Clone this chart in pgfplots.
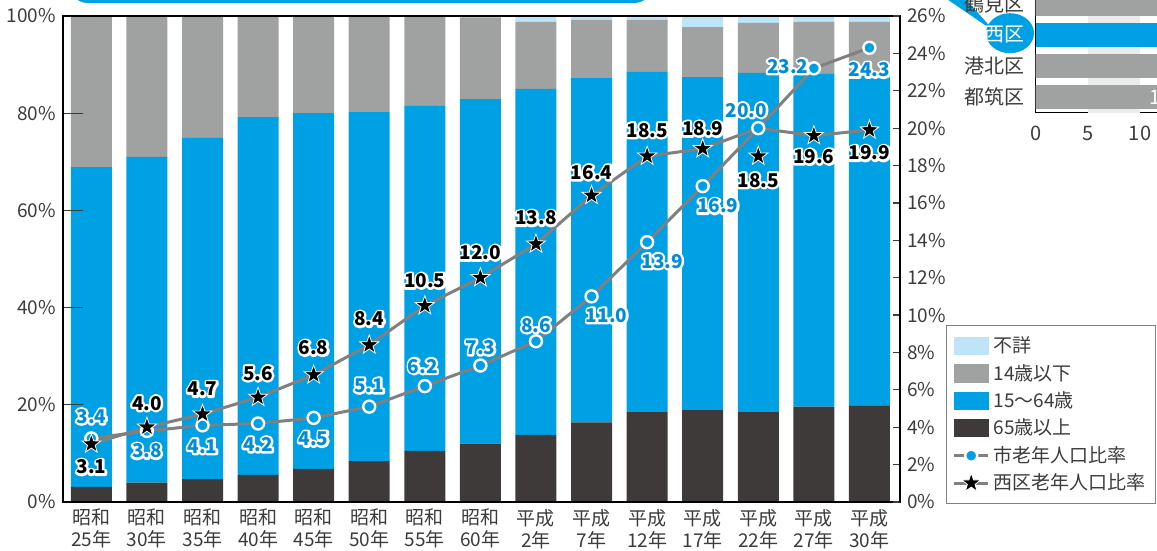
\documentclass[border=0pt]{standalone}
\usepackage{fontspec}
\setmainfont{Noto Sans CJK JP}
\usepackage{pgfplots}
\pgfplotsset{compat=1.18}
\usepackage{pgfplotstable}

\definecolor{cBlue}{RGB}{0,160,228}
\definecolor{cGray}{RGB}{160,162,161}
\definecolor{cDark}{RGB}{62,58,57}
\definecolor{cLight}{RGB}{190,228,248}
\definecolor{cLine}{RGB}{128,128,128}
\definecolor{cLab}{RGB}{0,140,214}
\definecolor{cTick}{RGB}{60,60,60}

% white halo round a label: stroked copy, then the text
\newcommand\outl[2]{\makebox[0pt][l]{\special{pdf:literal direct 1 Tr 2.2 w 1 j 1 1 1 RG}#2\special{pdf:literal direct 0 Tr}}{\color{#1}#2}}

% filled five-pointed star
\pgfdeclareplotmark{fstar}{%
  \pgfpathmoveto{\pgfpointpolar{90}{\pgfplotmarksize}}%
  \pgfpathlineto{\pgfpointpolar{126}{0.4\pgfplotmarksize}}%
  \pgfpathlineto{\pgfpointpolar{162}{\pgfplotmarksize}}%
  \pgfpathlineto{\pgfpointpolar{198}{0.4\pgfplotmarksize}}%
  \pgfpathlineto{\pgfpointpolar{234}{\pgfplotmarksize}}%
  \pgfpathlineto{\pgfpointpolar{270}{0.4\pgfplotmarksize}}%
  \pgfpathlineto{\pgfpointpolar{306}{\pgfplotmarksize}}%
  \pgfpathlineto{\pgfpointpolar{342}{0.4\pgfplotmarksize}}%
  \pgfpathlineto{\pgfpointpolar{18}{\pgfplotmarksize}}%
  \pgfpathlineto{\pgfpointpolar{54}{0.4\pgfplotmarksize}}%
  \pgfpathclose\pgfusepathqfillstroke}

% population shares (%), bottom to top
\pgfplotstableread{
x dark mid young unk
0  3.1  65.8 31.1 0
1  4.0  67.0 29.0 0
2  4.7  70.2 25.1 0
3  5.6  73.6 20.8 0
4  6.8  73.2 20.0 0
5  8.4  71.8 19.8 0
6  10.5 71.0 18.5 0
7  12.0 70.9 16.8 0.3
8  13.8 71.2 13.8 1.2
9  16.4 70.8 12.0 0.8
10 18.5 70.0 10.7 0.8
11 18.9 68.5 10.3 2.3
12 18.5 69.8 10.3 1.4
13 19.6 68.5 10.7 1.2
14 19.9 68.2 10.7 1.2
}\bars

% city ratio, label offsets in pt
\pgfplotstableread{
x city dx dy
0  3.4  0    11
1  3.8  0   -10
2  4.1  0   -10.5
3  4.2  0   -10.5
4  4.5  0   -10.5
5  5.1  0    10.5
6  6.2  -1   10
7  7.3  0    9
8  8.6  0    8
9  11.0 7.5 -9.5
10 13.9 7.5 -9.5
11 16.9 7.5 -10
12 20.0 -6   9
13 23.2 -13  1
14 24.3 0   -11
}\city

% Nishi ward ratio; path is the drawn line
\pgfplotstableread{
x ward path dx dy
0  3.1  3.1  0 -11.5
1  4.0  4.0  0  12
2  4.7  4.7  0  12.5
3  5.6  5.6  0  12
4  6.8  6.8  0  13.5
5  8.4  8.4  0  13
6  10.5 10.5 0  12.5
7  12.0 12.0 0  12.5
8  13.8 13.8 0  13
9  16.4 16.4 0  11.5
10 18.5 18.5 0  13
11 18.9 18.9 0  10
12 18.5 20.0 0 -12
13 19.6 19.6 0 -10.5
14 19.9 19.9 0 -11.5
}\ward

\begin{document}
\begin{tikzpicture}
\useasboundingbox (-31.5pt,-24.5pt) rectangle (547pt,251pt);

% box above the chart and callout
\draw[cBlue, line width=1.6pt, rounded corners=9pt] (3.5pt,250.3pt) rectangle (294.5pt,290pt);
\fill[cBlue] (439pt,253.5pt) -- (449.5pt,253.5pt) -- (466pt,235pt) -- cycle;
\fill[cBlue] (473.5pt,234.4pt) ellipse [x radius=12pt, y radius=10pt];

\begin{axis}[
  at={(0pt,0pt)}, anchor=south west,
  scale only axis, width=418.5pt, height=243pt,
  xmin=-0.51, xmax=14.55, ymin=0, ymax=100,
  ybar stacked, bar width=20.5pt,
  axis on top,
  axis line style={line width=0.6pt},
  xtick={0,...,14},
  xticklabels={{昭和\\25年},{昭和\\30年},{昭和\\35年},{昭和\\40年},{昭和\\45年},
    {昭和\\50年},{昭和\\55年},{昭和\\60年},{平成\\2年},{平成\\7年},{平成\\12年},
    {平成\\17年},{平成\\22年},{平成\\27年},{平成\\30年}},
  xticklabel style={align=center, font=\fontsize{9.5}{11}\selectfont, text=cTick},
  major x tick style={draw=none},
  ytick={0,20,...,100},
  yticklabels={0\%,20\%,40\%,60\%,80\%,100\%},
  yticklabel style={font=\fontsize{9.5}{11}\selectfont, text=cTick},
  ytick pos=left, tick align=inside, major tick length=10pt,
  major y tick style={cTick, line width=0.6pt},
]
\addplot[fill=cDark, draw=none] table[x=x,y=dark]{\bars};
\addplot[fill=cBlue, draw=none] table[x=x,y=mid]{\bars};
\addplot[fill=cGray, draw=none] table[x=x,y=young]{\bars};
\addplot[fill=cLight, draw=none] table[x=x,y=unk]{\bars};
\end{axis}

\begin{axis}[
  at={(0pt,0pt)}, anchor=south west,
  scale only axis, width=418.5pt, height=243pt,
  xmin=-0.51, xmax=14.55, ymin=0, ymax=26,
  axis x line=none, axis y line*=right,
  axis line style={line width=0.6pt},
  ytick={0,2,...,26},
  yticklabels={0\%,2\%,4\%,6\%,8\%,10\%,12\%,14\%,16\%,18\%,20\%,22\%,24\%,26\%},
  yticklabel style={font=\fontsize{9.5}{11}\selectfont, text=cTick},
  tick align=inside, major tick length=3.5pt,
  major y tick style={cTick, line width=0.6pt},
  clip=false,
  /pgf/number format/.cd, fixed, fixed zerofill, precision=1, assume math mode=true,
  /pgfplots/.cd,
  legend cell align=left,
  legend style={at={(1.055,0.364)}, anchor=north west, draw=cLine, line width=0.6pt,
    font=\fontsize{9.5}{11}\selectfont, text=cTick, row sep=1.2pt,
    inner xsep=3pt, inner ysep=4pt,
    nodes={inner ysep=1.5pt}, column 2/.style={text width=100pt}},
]
\addlegendimage{legend image code/.code={\fill[cLight] (0pt,-4.25pt) rectangle (17pt,4.25pt);}}
\addlegendentry{不詳}
\addlegendimage{legend image code/.code={\fill[cGray] (0pt,-4.25pt) rectangle (17pt,4.25pt);}}
\addlegendentry{14歳以下}
\addlegendimage{legend image code/.code={\fill[cBlue] (0pt,-4.25pt) rectangle (17pt,4.25pt);}}
\addlegendentry{15～64歳}
\addlegendimage{legend image code/.code={\fill[cDark] (0pt,-4.25pt) rectangle (17pt,4.25pt);}}
\addlegendentry{65歳以上}
\addlegendimage{cLine, line width=1.5pt, mark=*, mark size=3pt,
  mark options={fill=cBlue, draw=white, line width=1.2pt}}
\addlegendentry{市老年人口比率}
\addlegendimage{cLine, line width=1.5pt, mark=fstar, mark size=5pt,
  mark options={fill=black, draw=white, line width=0.4pt}}
\addlegendentry{西区老年人口比率}

\addplot[cLine, line width=1.5pt, forget plot] table[x=x,y=path]{\ward};
\addplot[cLine, line width=1.5pt, mark=*, mark size=3pt,
  mark options={fill=cBlue, draw=white, line width=1.2pt}, forget plot,
  visualization depends on={\thisrow{dx} \as \mydx},
  visualization depends on={\thisrow{dy} \as \mydy},
  nodes near coords={\outl{cLab}{\pgfmathprintnumber{\pgfplotspointmeta}}},
  every node near coord/.append style={anchor=center, inner sep=0pt,
    xshift=\mydx pt, yshift=\mydy pt, font=\fontsize{9.5}{10}\selectfont\bfseries},
] table[x=x,y=city]{\city};
\addplot[only marks, mark=fstar, mark size=5pt,
  mark options={fill=black, draw=white, line width=0.4pt}, forget plot,
  visualization depends on={\thisrow{dx} \as \mydx},
  visualization depends on={\thisrow{dy} \as \mydy},
  nodes near coords={\outl{black}{\pgfmathprintnumber{\pgfplotspointmeta}}},
  every node near coord/.append style={anchor=center, inner sep=0pt,
    xshift=\mydx pt, yshift=\mydy pt, font=\fontsize{9.5}{10}\selectfont\bfseries},
] table[x=x,y=ward]{\ward};
\end{axis}

% ward comparison inset (cut by the page edge)
\begin{axis}[
  at={(486.35pt,194.65pt)}, anchor=south west,
  scale only axis, width=75pt, height=63.85pt,
  xmin=0, xmax=14.38, ymin=-0.506, ymax=3.613,
  xbar, bar width=11.8pt, bar shift=0pt,
  axis lines=left, axis line style={-, line width=0.7pt},
  xtick={0,5,10}, xticklabels={0,5,10},
  ytick={0,1,2,3},
  yticklabels={都筑区,港北区,{\color{white}西区},鶴見区},
  tick style={draw=none},
  ticklabel style={font=\fontsize{10}{12}\selectfont, text=cTick},
  xticklabel style={yshift=-1pt},
]
\fill[black!8] (axis cs:5,-0.506) rectangle (axis cs:10,3.613);
\addplot[fill=cGray, draw=none] coordinates {(17.4,0) (18.6,1) (22.9,3)};
\addplot[fill=cBlue, draw=none] coordinates {(19.9,2)};
\node[anchor=west, text=white, font=\fontsize{10}{12}\selectfont] at (axis cs:10.2,0) {17.4};
\end{axis}
\end{tikzpicture}
\end{document}
